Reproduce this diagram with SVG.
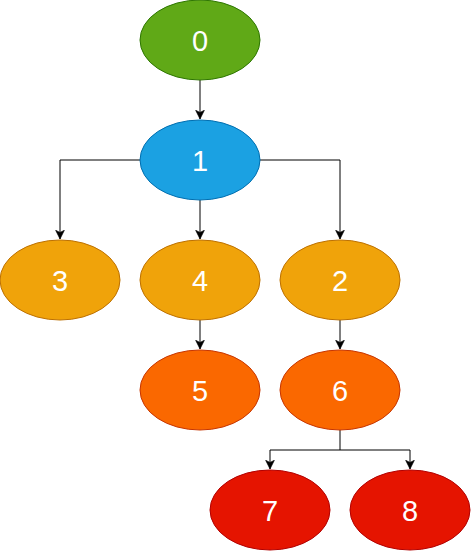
<svg xmlns="http://www.w3.org/2000/svg" width="471" height="551" viewBox="0 0 471 551">
<style>
.g{fill:#60a917;stroke:#2d7600}
.b{fill:#1ba1e2;stroke:#006eaf}
.o{fill:#f0a30a;stroke:#bd7000}
.d{fill:#fa6800;stroke:#c73500}
.r{fill:#e51400;stroke:#b20000}
text{font-family:"Liberation Sans",Arial,sans-serif;font-size:29px;fill:#ffffff;text-anchor:middle}
.c{fill:none;stroke:#000;stroke-width:1;marker-end:url(#a)}
</style>
<defs>
<marker id="a" markerWidth="10" markerHeight="10" refX="7" refY="4" orient="auto" markerUnits="userSpaceOnUse" viewBox="0 0 8 8">
<path d="M0,0.5 L7,4 L0,7.5 L1.75,4 Z" fill="#000" stroke="#000" stroke-width="0.5"/>
</marker>
</defs>
<g id="connectors">
<path class="c" d="M200,80 V119"/>
<path class="c" d="M140,160 H60 V239"/>
<path class="c" d="M200,200 V239"/>
<path class="c" d="M260,160 H340 V239"/>
<path class="c" d="M200,320 V349"/>
<path class="c" d="M340,320 V349"/>
<path class="c" d="M340,430 V450 H270 V469"/>
<path class="c" d="M340,450 H410 V469"/>
</g>
<g id="n0"><ellipse class="g" cx="200" cy="40" rx="60" ry="40"/><text x="200" y="50.5">0</text></g>
<g id="n1"><ellipse class="b" cx="200" cy="160" rx="60" ry="40"/><text x="200" y="170.5">1</text></g>
<g id="n3"><ellipse class="o" cx="60" cy="280" rx="60" ry="40"/><text x="60" y="290.5">3</text></g>
<g id="n4"><ellipse class="o" cx="200" cy="280" rx="60" ry="40"/><text x="200" y="290.5">4</text></g>
<g id="n2"><ellipse class="o" cx="340" cy="280" rx="60" ry="40"/><text x="340" y="290.5">2</text></g>
<g id="n5"><ellipse class="d" cx="200" cy="390" rx="60" ry="40"/><text x="200" y="400.5">5</text></g>
<g id="n6"><ellipse class="d" cx="340" cy="390" rx="60" ry="40"/><text x="340" y="400.5">6</text></g>
<g id="n7"><ellipse class="r" cx="270" cy="510" rx="60" ry="40"/><text x="270" y="520.5">7</text></g>
<g id="n8"><ellipse class="r" cx="410" cy="510" rx="60" ry="40"/><text x="410" y="520.5">8</text></g>
</svg>
